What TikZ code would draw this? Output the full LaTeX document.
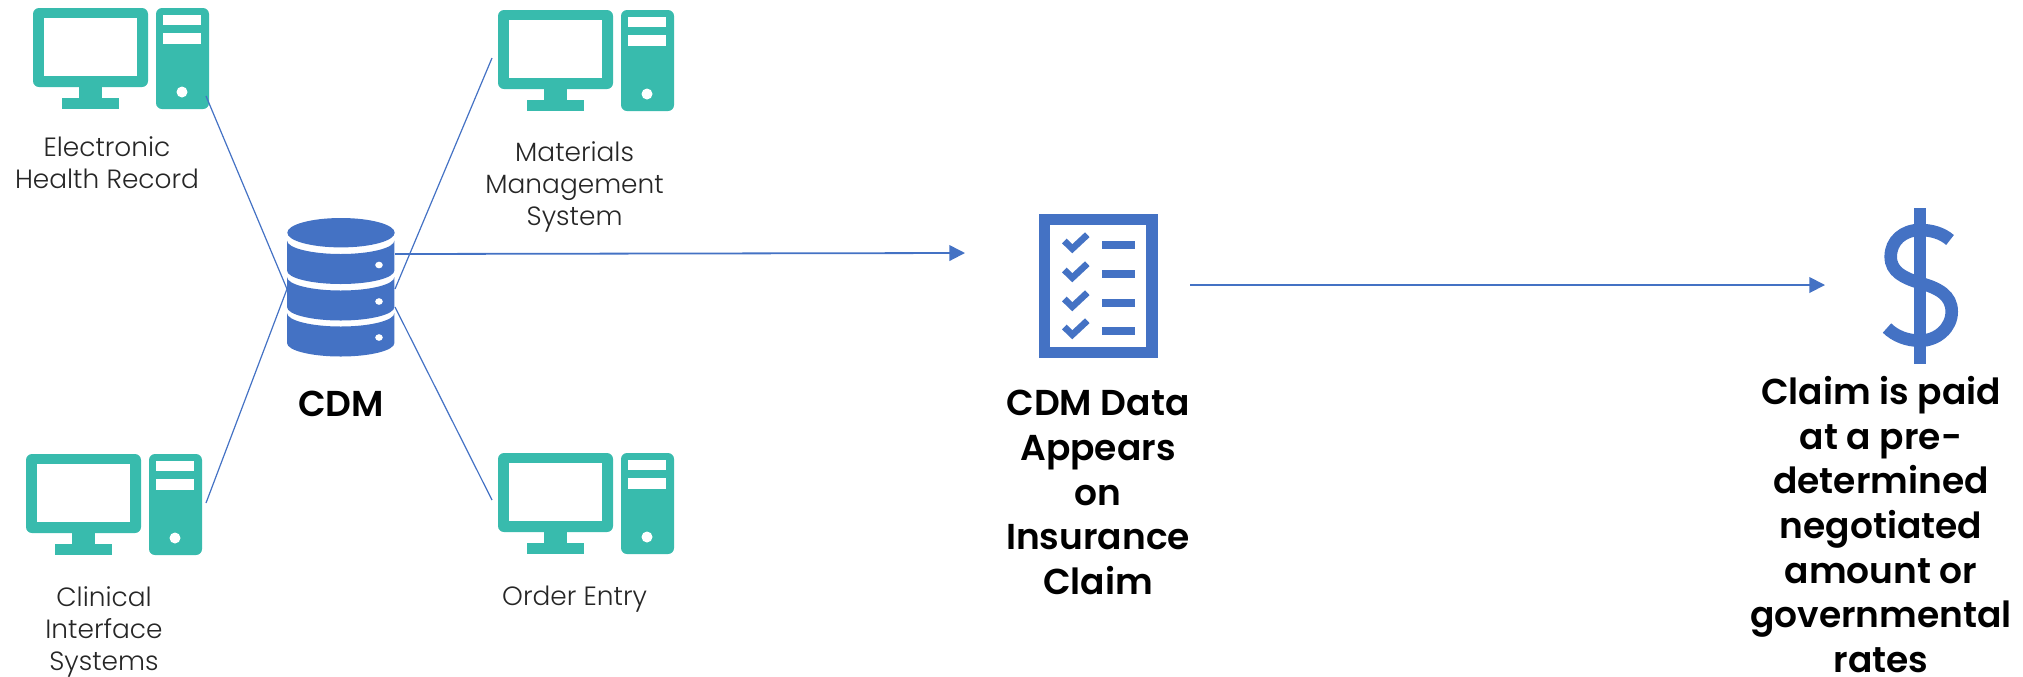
\documentclass[tikz,border=0pt]{standalone}
\usepackage{fontspec}
\setmainfont{Poppins Light}[BoldFont=Poppins SemiBold]
\usetikzlibrary{arrows.meta,positioning}

\definecolor{iconteal}{HTML}{38BBAD}
\definecolor{iconblue}{HTML}{4472C4}

\tikzset{
    iconbox/.style = {inner sep = 0pt, outer sep = 0pt},
    smalltext/.style = {inner sep = 0pt, align = center, text = black!85,
        font = \fontsize{13.2}{16}\selectfont},
    boldtext/.style = {inner sep = 0pt, align = center, text = black,
        font = \bfseries\fontsize{18}{22.3}\selectfont},
    thinline/.style = {iconblue, line width = 0.6pt},
    arrowline/.style = {iconblue, line width = 0.9pt,
        -{Triangle[length=7.8pt,width=7.8pt]}},
    computer/.pic = {
        \node[iconbox, minimum width = 88pt, minimum height = 50.5pt] (-box) at (88,50.5) {};
        \fill[iconteal, rounded corners = 3pt] (0,0) rectangle (115,79);
        \fill[white] (11,10) rectangle (104,68);
        \fill[iconteal] (46,78) rectangle (69,90);
        \fill[iconteal] (29,90) rectangle (86,101);
        \fill[iconteal, rounded corners = 3pt] (123,0) rectangle (176,101);
        \fill[white] (130,7) rectangle (168,17);
        \fill[white] (130,25) rectangle (168,36);
        \fill[white] (149,84) circle (5.5);
    },
    database/.pic = {
        \node[iconbox, minimum width = 54pt, minimum height = 68.5pt] (-box) at (54,68.5) {};
        \fill[iconblue] (54,14.7) ellipse [x radius = 53.7, y radius = 14.7];
        \foreach \y in {22.5,59,95} {
            \fill[iconblue] (0,\y) arc [start angle = 180, end angle = 0, x radius = 53.7, y radius = 13.5]
                -- ++(0,30) arc [start angle = 0, end angle = 180, x radius = 53.7, y radius = 13.5] -- cycle;
            \fill[white] (92,\y+24.5) ellipse [x radius = 3.8, y radius = 3.3];
        }
    },
    checklist/.pic = {
        \node[iconbox, minimum width = 59.5pt, minimum height = 72pt] (-box) at (59.5,72) {};
        \fill[iconblue] (0,0) rectangle (119,144);
        \fill[white] (11.5,11) rectangle (107.5,133);
        \foreach \y in {0,29,58,86} {
            \draw[iconblue, line width = 3.3pt] (25.8,27+\y) -- (33.8,34.7+\y) -- (48.8,20.7+\y);
            \fill[iconblue] (63.5,27+\y) rectangle (96.5,35+\y);
        }
    },
    dollar/.pic = {
        \node[iconbox, minimum width = 32pt, minimum height = 78pt] (-box) at (33,78) {};
        \fill[iconblue] (27,0) rectangle (38.5,156);
        \draw[iconblue, line width = 6.3pt] (63,32) .. controls (55,25) and (44,22) .. (33,22)
            .. controls (16,22) and (3.7,33) .. (3.7,48.7)
            .. controls (3.7,64) and (17,70) .. (33,75)
            .. controls (51,80) and (64.7,87) .. (64.7,103.7)
            .. controls (64.7,120) and (50,132.7) .. (33,132.7)
            .. controls (20,132.7) and (8,128) .. (0,120);
    }
}

\begin{document}
\begin{tikzpicture}[x = 0.5pt, y = -0.5pt]
    \useasboundingbox (0,0) rectangle (2023,676);

    \pic (ehr) at (33,8) {computer};
    \pic (mms) at (498,10) {computer};
    \pic (cis) at (26,454) {computer};
    \pic (oe) at (498,453) {computer};
    \pic (cdm) at (287,218) {database};
    \pic (list) at (1038.5,214) {checklist};
    \pic (pay) at (1887,208) {dollar};

    \node[smalltext] (ehrtext) [below = 13.6pt of ehr-box, xshift = -7pt] {Electronic\\Health Record};
    \node[smalltext] (mmstext) [below = 14.9pt of mms-box, xshift = -5.7pt] {Materials\\Management\\System};
    \node[smalltext] (cistext) [below = 15.6pt of cis-box, xshift = -5pt] {Clinical\\Interface\\Systems};
    \node[smalltext] (oetext) [below = 15.8pt of oe-box, xshift = -5.7pt] {Order Entry};
    \node[boldtext] (cdmtext) [below = 18pt of cdm-box] {CDM};
    \node[boldtext] (listtext) [below = 16pt of list-box] {CDM Data\\Appears\\on\\Insurance\\Claim};
    \node[boldtext] (paytext) [below = 6pt of pay-box, xshift = -19.5pt] {Claim is paid\\at a pre-\\determined\\negotiated\\amount or\\governmental\\rates};

    \coordinate (ehrport) at (206,96);
    \coordinate (cisport) at (206,503);
    \coordinate (mmsport) at (492,58);
    \coordinate (oeport) at (492,500);
    \coordinate (cdmwest) at (287,289);
    \coordinate (cdmne) at (395,289);
    \coordinate (cdmse) at (395,307);
    \coordinate (cdmout) at (395,254);
    \coordinate (listin) at (965,253);
    \coordinate (listout) at (1190,285);
    \coordinate (payin) at (1825,285);

    \draw[thinline] (ehrport) -- (cdmwest);
    \draw[thinline] (cisport) -- (cdmwest);
    \draw[thinline] (mmsport) -- (cdmne);
    \draw[thinline] (oeport) -- (cdmse);
    \draw[arrowline] (cdmout) -- (listin);
    \draw[arrowline] (listout) -- (payin);
\end{tikzpicture}
\end{document}
